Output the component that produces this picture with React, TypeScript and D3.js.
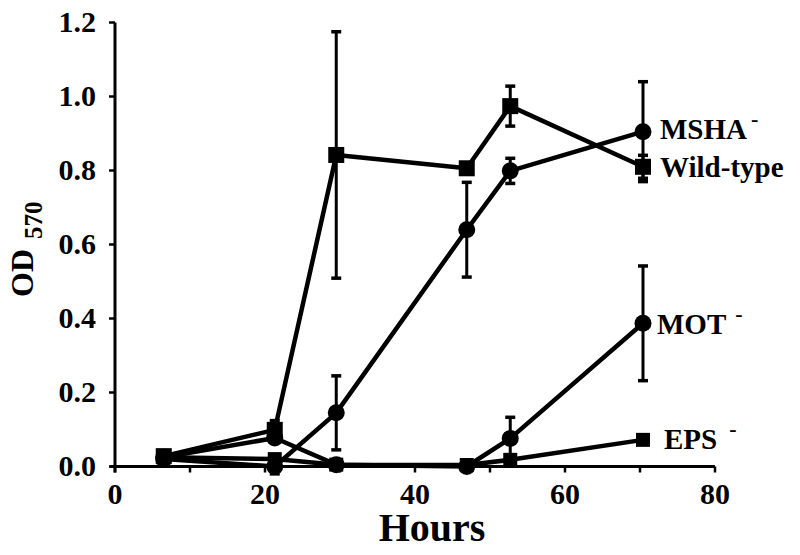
import React from "react";
import * as d3 from "d3";

const hours = [6.5, 21.3, 29.5, 46.9, 52.7, 70.4];

const wildType = [0.028, 0.099, 0.842, 0.806, 0.974, 0.81];
const wildTypeErr = [0, 0.025, 0.333, 0.01, 0.054, 0.031];

const mshaMinus = [0.02, 0.0, 0.145, 0.64, 0.799, 0.905];
const mshaErr = [0, 0.02, 0.1, 0.128, 0.034, 0.135];

const motMinus = [0.025, 0.077, 0.005, 0.0, 0.076, 0.387];
const motErr = [0, 0, 0, 0.01, 0.057, 0.155];

const epsMinus = [0.025, 0.02, 0.005, 0.004, 0.018, 0.072];
const epsErr = [0, 0, 0, 0, 0, 0];

const xTicks = [0, 20, 40, 60, 80];
const xMinorTicks = [0, 10, 20, 30, 40, 50, 60, 70, 80];
const yTicks = [0, 0.2, 0.4, 0.6, 0.8, 1.0, 1.2];

const seriesNames = ["MSHA", "Wild-type", "MOT", "EPS"];
const seriesSup = ["-", "", "-", "-"];

type Series = {
  name: string;
  sup: string;
  values: number[];
  err: number[];
  marker: "square" | "circle";
  size: number;
  labelDx: number;
  labelDy: number;
  supDx: number;
};

const series: Series[] = [
  { name: seriesNames[0], sup: seriesSup[0], values: mshaMinus, err: mshaErr, marker: "circle", size: 8.5, labelDx: 17, labelDy: 7, supDx: 4 },
  { name: seriesNames[1], sup: seriesSup[1], values: wildType, err: wildTypeErr, marker: "square", size: 16, labelDx: 17, labelDy: 10, supDx: 0 },
  { name: seriesNames[2], sup: seriesSup[2], values: motMinus, err: motErr, marker: "circle", size: 8.5, labelDx: 14, labelDy: 11, supDx: 9 },
  { name: seriesNames[3], sup: seriesSup[3], values: epsMinus, err: epsErr, marker: "square", size: 14, labelDx: 21, labelDy: 9, supDx: 12 },
];

const FONT = "'Liberation Serif', 'Times New Roman', serif";

export default function App() {
  const width = 800;
  const height = 555;
  const x = d3.scaleLinear().domain([0, 80]).range([115, 715]);
  const y = d3.scaleLinear().domain([0, 1.2]).range([466.5, 22.5]);

  const line = d3
    .line<[number, number]>()
    .x((d) => x(d[0]))
    .y((d) => y(d[1]));

  return (
    <svg
      width={width}
      height={height}
      style={{ position: "absolute", left: 0, top: 0, background: "#fff" }}
      fontFamily={FONT}
      fontWeight="bold"
    >
      <rect x={0} y={0} width={width} height={height} fill="#fff" />

      {/* axes */}
      <line x1={110} x2={x(80)} y1={y(0)} y2={y(0)} stroke="#000" strokeWidth={3} />
      <line x1={x(0)} x2={x(0)} y1={y(1.2)} y2={y(0) + 6} stroke="#000" strokeWidth={3} />
      {xMinorTicks.map((t) => (
        <line key={"xm" + t} x1={x(t)} x2={x(t)} y1={y(0)} y2={y(0) + 6} stroke="#000" strokeWidth={2.5} />
      ))}
      {xTicks.map((t) => (
        <text key={"xt" + t} x={x(t)} y={y(0) + 37} textAnchor="middle" fontSize={30}>
          {t}
        </text>
      ))}
      {yTicks.map((t) => (
        <g key={"yt" + t}>
          <line x1={x(0) - 6} x2={x(0)} y1={y(t)} y2={y(t)} stroke="#000" strokeWidth={2.5} />
          <text x={96} y={y(t) + 9.5} textAnchor="end" fontSize={30}>
            {d3.format(".1f")(t)}
          </text>
        </g>
      ))}

      {/* axis titles */}
      <text x={432} y={541} textAnchor="middle" fontSize={40}>
        Hours
      </text>
      <text transform="translate(33,297) rotate(-90)" fontSize={32}>
        <tspan>OD</tspan>
        <tspan dx={10} dy={9} fontSize={25}>
          570
        </tspan>
      </text>

      {/* lines */}
      {series.map((s) => (
        <path
          key={"l" + s.name}
          d={line(hours.map((h, i) => [h, s.values[i]] as [number, number])) || ""}
          fill="none"
          stroke="#000"
          strokeWidth={4.5}
          strokeLinejoin="round"
        />
      ))}

      {/* error bars */}
      {series.map((s) =>
        hours.map((h, i) =>
          s.err[i] > 0 ? (
            <g key={"e" + s.name + i} stroke="#000" strokeWidth={3}>
              <line x1={x(h)} x2={x(h)} y1={y(s.values[i] - s.err[i])} y2={y(s.values[i] + s.err[i])} />
              <line x1={x(h) - 5} x2={x(h) + 5} y1={y(s.values[i] + s.err[i])} y2={y(s.values[i] + s.err[i])} strokeWidth={3.5} />
              <line x1={x(h) - 5} x2={x(h) + 5} y1={y(s.values[i] - s.err[i])} y2={y(s.values[i] - s.err[i])} strokeWidth={3.5} />
            </g>
          ) : null
        )
      )}

      {/* markers */}
      {series.map((s) =>
        hours.map((h, i) =>
          s.marker === "circle" ? (
            <circle key={"m" + s.name + i} cx={x(h)} cy={y(s.values[i])} r={s.size} fill="#000" />
          ) : (
            <rect
              key={"m" + s.name + i}
              x={x(h) - s.size / 2}
              y={y(s.values[i]) - s.size / 2}
              width={s.size}
              height={s.size}
              fill="#000"
            />
          )
        )
      )}

      {/* series labels */}
      {series.map((s) => {
        const li = hours.length - 1;
        return (
          <text
            key={"t" + s.name}
            x={x(hours[li]) + s.labelDx}
            y={y(s.values[li]) + s.labelDy}
            fontSize={29}
          >
            <tspan>{s.name}</tspan>
            {s.sup ? (
              <tspan dx={s.supDx} dy={-13} fontSize={22}>
                {s.sup}
              </tspan>
            ) : null}
          </text>
        );
      })}
    </svg>
  );
}
